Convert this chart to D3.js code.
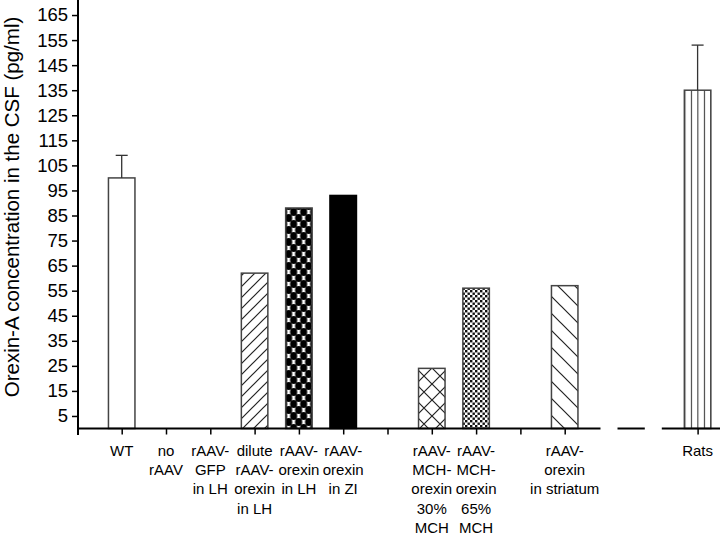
<!DOCTYPE html>
<html>
<head>
<meta charset="utf-8">
<script src="https://cdn.jsdelivr.net/npm/d3@7"></script>
<style>
  body { margin: 0; background: #fff; }
  svg { display: block; font-family: "Liberation Sans", Arial, sans-serif; }
</style>
</head>
<body>
<div id="chart"></div>
<script>
////////////////////////////  Data  ////////////////////////////
// 14 slots on the x axis, some are empty (gaps between groups)
const categories = [
  "WT", "no\nrAAV", "rAAV-\nGFP\nin LH", "dilute\nrAAV-\norexin\nin LH",
  "rAAV-\norexin\nin LH", "rAAV-\norexin\nin ZI", "",
  "rAAV-\nMCH-\norexin\n30%\nMCH", "rAAV-\nMCH-\norexin\n65%\nMCH", "",
  "rAAV-\norexin\nin striatum", "", "", "Rats"
];
const values = [100, 0, 0, 62, 88, 93, null, 24, 56, null, 57, null, null, 135];
const errors = [9, 0, 0, 0, 0, 0, null, 0, 0, null, 0, null, null, 18];
const yTicks = [5, 15, 25, 35, 45, 55, 65, 75, 85, 95, 105, 115, 125, 135, 145, 155, 165];
const yTitle = "Orexin-A concentration in the CSF (pg/ml)";

////////////////////////////  Init  ////////////////////////////
const width = 720, height = 537;
const svg = d3.select("#chart").append("svg")
  .attr("width", width).attr("height", height);

const x = d3.scalePoint().domain(d3.range(categories.length)).range([121.7, 697.6]);
const y = d3.scaleLinear().domain([0, 171]).range([428.5, 0]);
const barW = 26.5;
const ink = "#333";

// fill per slot
const fills = ["#fff", null, null, "url(#hatchFwd)", "url(#dots)", "#000", null,
  "url(#cross)", "url(#stipple)", null, "url(#hatchBack)", null, null, "url(#vlines)"];

//////////////////////////// patterns
const defs = svg.append("defs");
const pat = (id, w, h) => {
  const p = defs.append("pattern").attr("id", id)
    .attr("patternUnits", "userSpaceOnUse").attr("width", w).attr("height", h);
  p.append("rect").attr("width", w).attr("height", h).attr("fill", "#fff");
  return p;
};
pat("hatchFwd", 11, 11).append("path")
  .attr("d", "M-1,1 L1,-1 M0,11 L11,0 M10,12 L12,10")
  .attr("stroke", "#222").attr("stroke-width", 1.2);
pat("hatchBack", 17, 17).append("path")
  .attr("d", "M-1,16 L1,18 M0,0 L17,17 M16,-1 L18,1")
  .attr("stroke", "#222").attr("stroke-width", 1.2);
const cr = pat("cross", 16, 16);
cr.append("path").attr("d", "M0,0 L16,16 M16,0 L0,16")
  .attr("stroke", "#222").attr("stroke-width", 1.2);
const dp = defs.append("pattern").attr("id", "dots")
  .attr("patternUnits", "userSpaceOnUse").attr("width", 10).attr("height", 12)
  .attr("x", x(4) - barW / 2 + 3).attr("y", 2);
dp.append("rect").attr("width", 10).attr("height", 12).attr("fill", "#fff");
[[0, 0], [10, 0], [0, 12], [10, 12], [5, 6]].forEach(([cx, cy]) =>
  dp.append("ellipse").attr("cx", cx).attr("cy", cy).attr("rx", 3.6).attr("ry", 3.9).attr("fill", "#000"));
const sp = pat("stipple", 5, 5);
sp.append("rect").attr("x", 0).attr("y", 0).attr("width", 2.4).attr("height", 2.4).attr("fill", "#111");
sp.append("rect").attr("x", 2.5).attr("y", 2.5).attr("width", 2.4).attr("height", 2.4).attr("fill", "#111");
const vl = defs.append("pattern").attr("id", "vlines")
  .attr("patternUnits", "userSpaceOnUse").attr("width", 6.5).attr("height", 10)
  .attr("x", x(13) - barW / 2);
vl.append("rect").attr("width", 6.5).attr("height", 10).attr("fill", "#fff");
vl.append("line").attr("x1", 0.5).attr("x2", 0.5).attr("y1", 0).attr("y2", 10)
  .attr("stroke", ink).attr("stroke-width", 1.1);

//////////////////////////// bars
const idx = d3.range(categories.length).filter(i => values[i]);
svg.append("g").selectAll("rect")
  .data(idx)
  .join("rect")
  .attr("x", i => x(i) - barW / 2)
  .attr("y", i => y(values[i]))
  .attr("width", barW)
  .attr("height", i => y(0) - y(values[i]))
  .attr("fill", i => fills[i])
  .attr("stroke", i => fills[i] === "#000" ? "#000" : "#444")
  .attr("stroke-width", 1.5);

//////////////////////////// error bars (upper only)
const errG = svg.append("g").attr("stroke", ink).attr("stroke-width", 1.3);
const withErr = idx.filter(i => errors[i] > 0);
errG.selectAll("line.v").data(withErr).join("line").attr("class", "v")
  .attr("x1", i => x(i)).attr("x2", i => x(i))
  .attr("y1", i => y(values[i])).attr("y2", i => y(values[i] + errors[i]));
errG.selectAll("line.c").data(withErr).join("line").attr("class", "c")
  .attr("x1", i => x(i) - 6).attr("x2", i => x(i) + 6)
  .attr("y1", i => y(values[i] + errors[i])).attr("y2", i => y(values[i] + errors[i]));

//////////////////////////// y axis
const yAxis = svg.append("g")
  .attr("transform", "translate(78,0)")
  .call(d3.axisLeft(y).tickValues(yTicks).tickSize(6).tickPadding(4));
yAxis.select(".domain").remove();
yAxis.selectAll(".tick line").attr("stroke", "#000").attr("stroke-width", 1.5);
yAxis.selectAll(".tick text").attr("font-size", 18.5).attr("fill", "#000")
  .attr("font-family", "'Liberation Sans', Arial, sans-serif");
svg.append("line").attr("x1", 78).attr("x2", 78).attr("y1", 0).attr("y2", 435)
  .attr("stroke", "#000").attr("stroke-width", 2);

svg.append("text")
  .attr("transform", "translate(18.5,207) rotate(-90)")
  .attr("text-anchor", "middle")
  .attr("font-size", 20.5)
  .text(yTitle);

//////////////////////////// x axis (broken near the Rats group)
const gap = 8.5;
const xSegs = [[77, x(11) - gap], [x(11) + gap, x(12) - gap], [x(12) + gap, width]];
svg.append("g").selectAll("line").data(xSegs).join("line")
  .attr("x1", d => d[0]).attr("x2", d => d[1])
  .attr("y1", y(0)).attr("y2", y(0))
  .attr("stroke", "#000").attr("stroke-width", 2);

const xAxis = svg.append("g")
  .attr("transform", `translate(0,${y(0)})`)
  .call(d3.axisBottom(x).tickValues(d3.range(categories.length).filter(i => i !== 11 && i !== 12))
    .tickSize(6).tickFormat(""));
xAxis.select(".domain").remove();
xAxis.selectAll(".tick line").attr("stroke", "#000").attr("stroke-width", 1.5);

//////////////////////////// x labels
const lab = svg.append("g").attr("font-size", 15).attr("text-anchor", "middle");
categories.forEach((c, i) => {
  if (!c) return;
  const t = lab.append("text").attr("x", x(i)).attr("y", 456);
  c.split("\n").forEach((line, k) => {
    t.append("tspan").attr("x", x(i)).attr("dy", k === 0 ? 0 : 19.2).text(line);
  });
});
</script>
</body>
</html>
